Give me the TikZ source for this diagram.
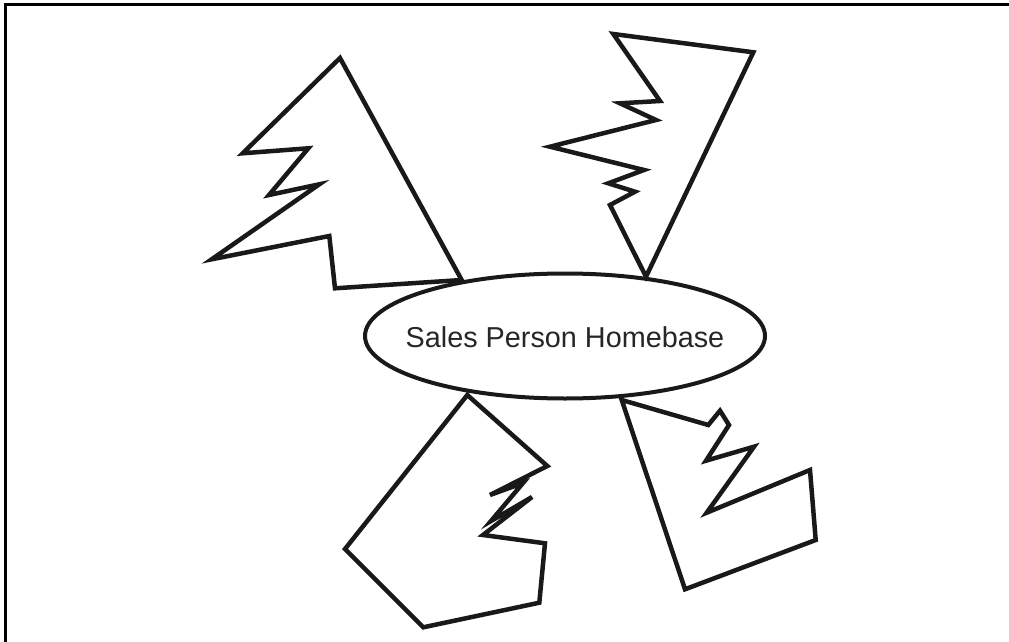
\documentclass[tikz,border=0pt]{standalone}
\usepackage{fontspec}
\setmainfont{Liberation Sans}
\begin{document}
\begin{tikzpicture}[x=1pt,y=-1pt,
  shapeline/.style={line width=4.5pt,line join=miter,black!90},
  frameline/.style={line width=3pt,black},
  hubline/.style={line width=4pt,black!90},
  hub/.style={inner sep=0pt,font=\fontsize{28.8}{34}\selectfont,text=black!85}]
\useasboundingbox (0,0) rectangle (1009,642);
\draw[frameline] (5,642) -- (5,5) -- (1009,5);
% top-left shape
\draw[shapeline] (340,58) -- (461.7,280) -- (335,288.3) -- (329.3,236) -- (211.7,259.3) -- (319.3,184.3)
  -- (269,195) -- (308.3,148.3) -- (242.7,153.3) -- cycle;
% top-right shape
\draw[shapeline] (613.3,34) -- (753.3,52.3) -- (646,276.7) -- (610,205) -- (635,191.7) -- (608.3,183.3)
  -- (644,170) -- (550,146.7) -- (656,120) -- (620,103.3) -- (660,101) -- cycle;
% bottom-left shape
\draw[shapeline] (467.3,395) -- (547.3,466) -- (490,495) -- (523,483) -- (491,521) -- (532,497)
  -- (483,535) -- (545,543.3) -- (539.3,602.7) -- (423.3,627.3) -- (345,549) -- cycle;
% bottom-right shape
\draw[shapeline] (621.7,400) -- (708.3,425) -- (720,410.7) -- (729,425) -- (706,460.7) -- (754,446.7)
  -- (706.7,512.7) -- (810,470) -- (815.7,540) -- (685,589.3) -- cycle;
\draw[hubline] (565,336) ellipse [x radius=200, y radius=62.5];
\node[hub] (base) at (565,337) {Sales Person Homebase};
\end{tikzpicture}
\end{document}
